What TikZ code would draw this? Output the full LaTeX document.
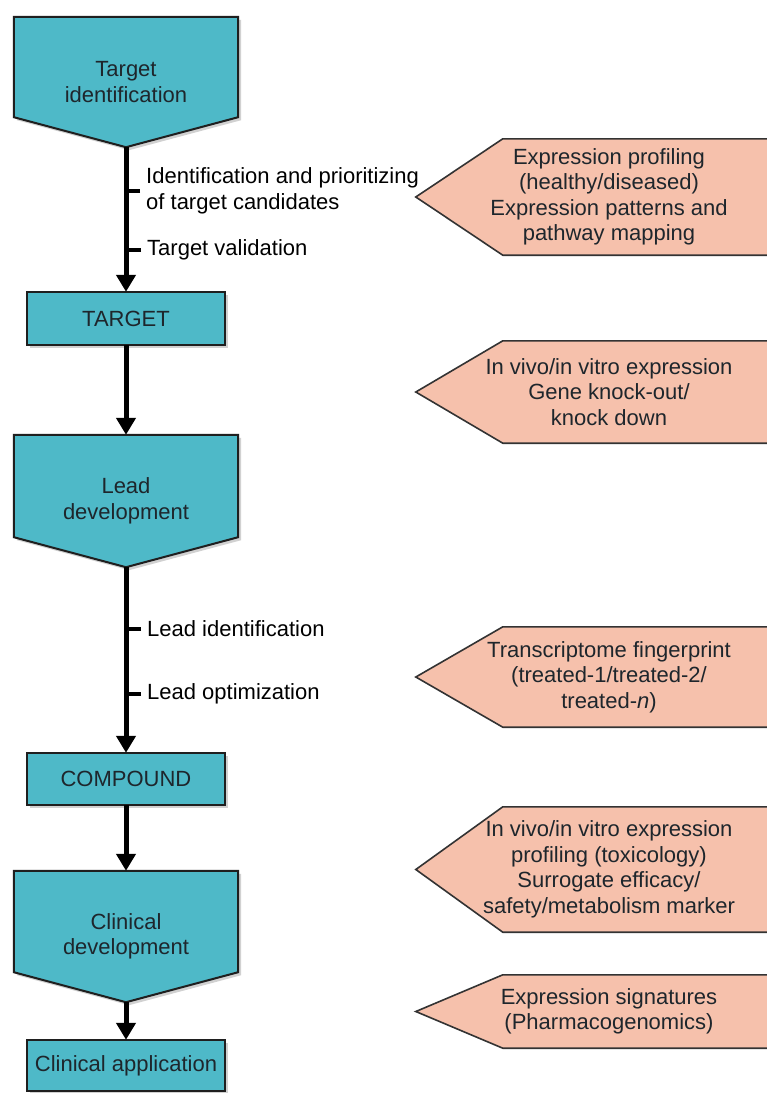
\documentclass[tikz,border=0pt]{standalone}
\usepackage{fontspec}
\setmainfont{Liberation Sans}
\usetikzlibrary{arrows.meta, backgrounds, shadows}

\definecolor{stagefill}{RGB}{78,185,200}
\definecolor{toolfill}{RGB}{246,193,172}
\definecolor{inktext}{RGB}{30,38,44}

\begin{document}
\begin{tikzpicture}[
		every node/.style={align=center, inner sep=0pt, font=\fontsize{22}{25.5}\selectfont},
		stage/.style={text=inktext},
		tool/.style={text=inktext, minimum width=386pt},
		flow/.style={line width=5pt, -{Triangle[width=19pt, length=17pt]}},
		tickmark/.style={line width=4pt},
		stage_line/.style={draw=black!88, line width=2pt, fill=stagefill,
			drop shadow={shadow xshift=3pt, shadow yshift=-3pt, fill=black!30, opacity=0.6}},
		tool_line/.style={draw=black!80, line width=1.6pt, fill=toolfill}
	]
  \useasboundingbox (0pt, 0pt) rectangle (767pt, -1093pt);
  \clip (0pt, 0pt) rectangle (767pt, -1093pt);

  % stages down the left
  \node (t_ident) [stage, minimum width=224pt, minimum height=130pt] at (126pt, -82pt) {Target\\identification};
  \node (target) [stage, minimum width=198pt, minimum height=53pt] at (126pt, -318.5pt) {TARGET};
  \node (lead_dev) [stage, minimum width=224pt, minimum height=132pt] at (126pt, -501pt) {Lead\\development};
  \node (compound) [stage, minimum width=198pt, minimum height=52pt] at (126pt, -779pt) {COMPOUND};
  \node (clin_dev) [stage, minimum width=224pt, minimum height=131pt] at (126pt, -936.5pt) {Clinical\\development};
  \node (clin_app) [stage, minimum width=198pt, minimum height=51pt] at (126pt, -1065.5pt) {Clinical application};

  % expression tools on the right
  \node (p_profile) [tool, minimum height=116pt] at (609pt, -197pt) {Expression profiling\\(healthy/diseased)\\Expression patterns and\\pathway mapping};
  \node (p_knock) [tool, minimum height=102pt] at (609pt, -392pt) {In vivo/in vitro expression\\Gene knock-out/\\knock down};
  \node (p_finger) [tool, minimum height=100pt] at (609pt, -677pt) {Transcriptome fingerprint\\(treated-1/treated-2/\\treated-\textit{n})};
  \node (p_tox) [tool, minimum height=125pt] at (609pt, -869.5pt) {In vivo/in vitro expression\\profiling (toxicology)\\Surrogate efficacy/\\safety/metabolism marker};
  \node (p_sign) [tool, minimum height=73pt] at (609pt, -1011.5pt) {Expression signatures\\(Pharmacogenomics)};

  \begin{scope}[on background layer]
    \foreach \s in {t_ident, lead_dev, clin_dev}
      \draw[stage_line] (\s.north west) -- (\s.north east) -- ([yshift=30pt]\s.south east)
        -- (\s.south) -- ([yshift=30pt]\s.south west) -- cycle;
    \foreach \s in {target, compound, clin_app}
      \draw[stage_line] (\s.north west) rectangle (\s.south east);
    \foreach \s in {p_profile, p_knock, p_finger, p_tox, p_sign}
      \draw[tool_line] (\s.north east) -- ([xshift=87pt]\s.north west) -- (\s.west)
        -- ([xshift=87pt]\s.south west) -- (\s.south east) -- cycle;
  \end{scope}

  % steps along the arrows
  \node (l_ident) [anchor=west, align=left] at (146pt, -191pt) {Identification and prioritizing\\of target candidates};
  \node (l_valid) [anchor=west] at (147pt, -250pt) {Target validation};
  \node (l_lead_id) [anchor=west] at (147pt, -629pt) {Lead identification};
  \node (l_lead_opt) [anchor=west] at (147pt, -694pt) {Lead optimization};

  \draw[flow] (t_ident.south) -- (target.north);
  \draw[flow] (target.south) -- (lead_dev.north);
  \draw[flow] (lead_dev.south) -- (compound.north);
  \draw[flow] (compound.south) -- (clin_dev.north);
  \draw[flow] (clin_dev.south) -- (clin_app.north);

  \foreach \l in {l_ident, l_valid, l_lead_id, l_lead_opt}
    \draw[tickmark] ([xshift=-6pt]\l.west) -- ([xshift=-21pt]\l.west);
\end{tikzpicture}
\end{document}
